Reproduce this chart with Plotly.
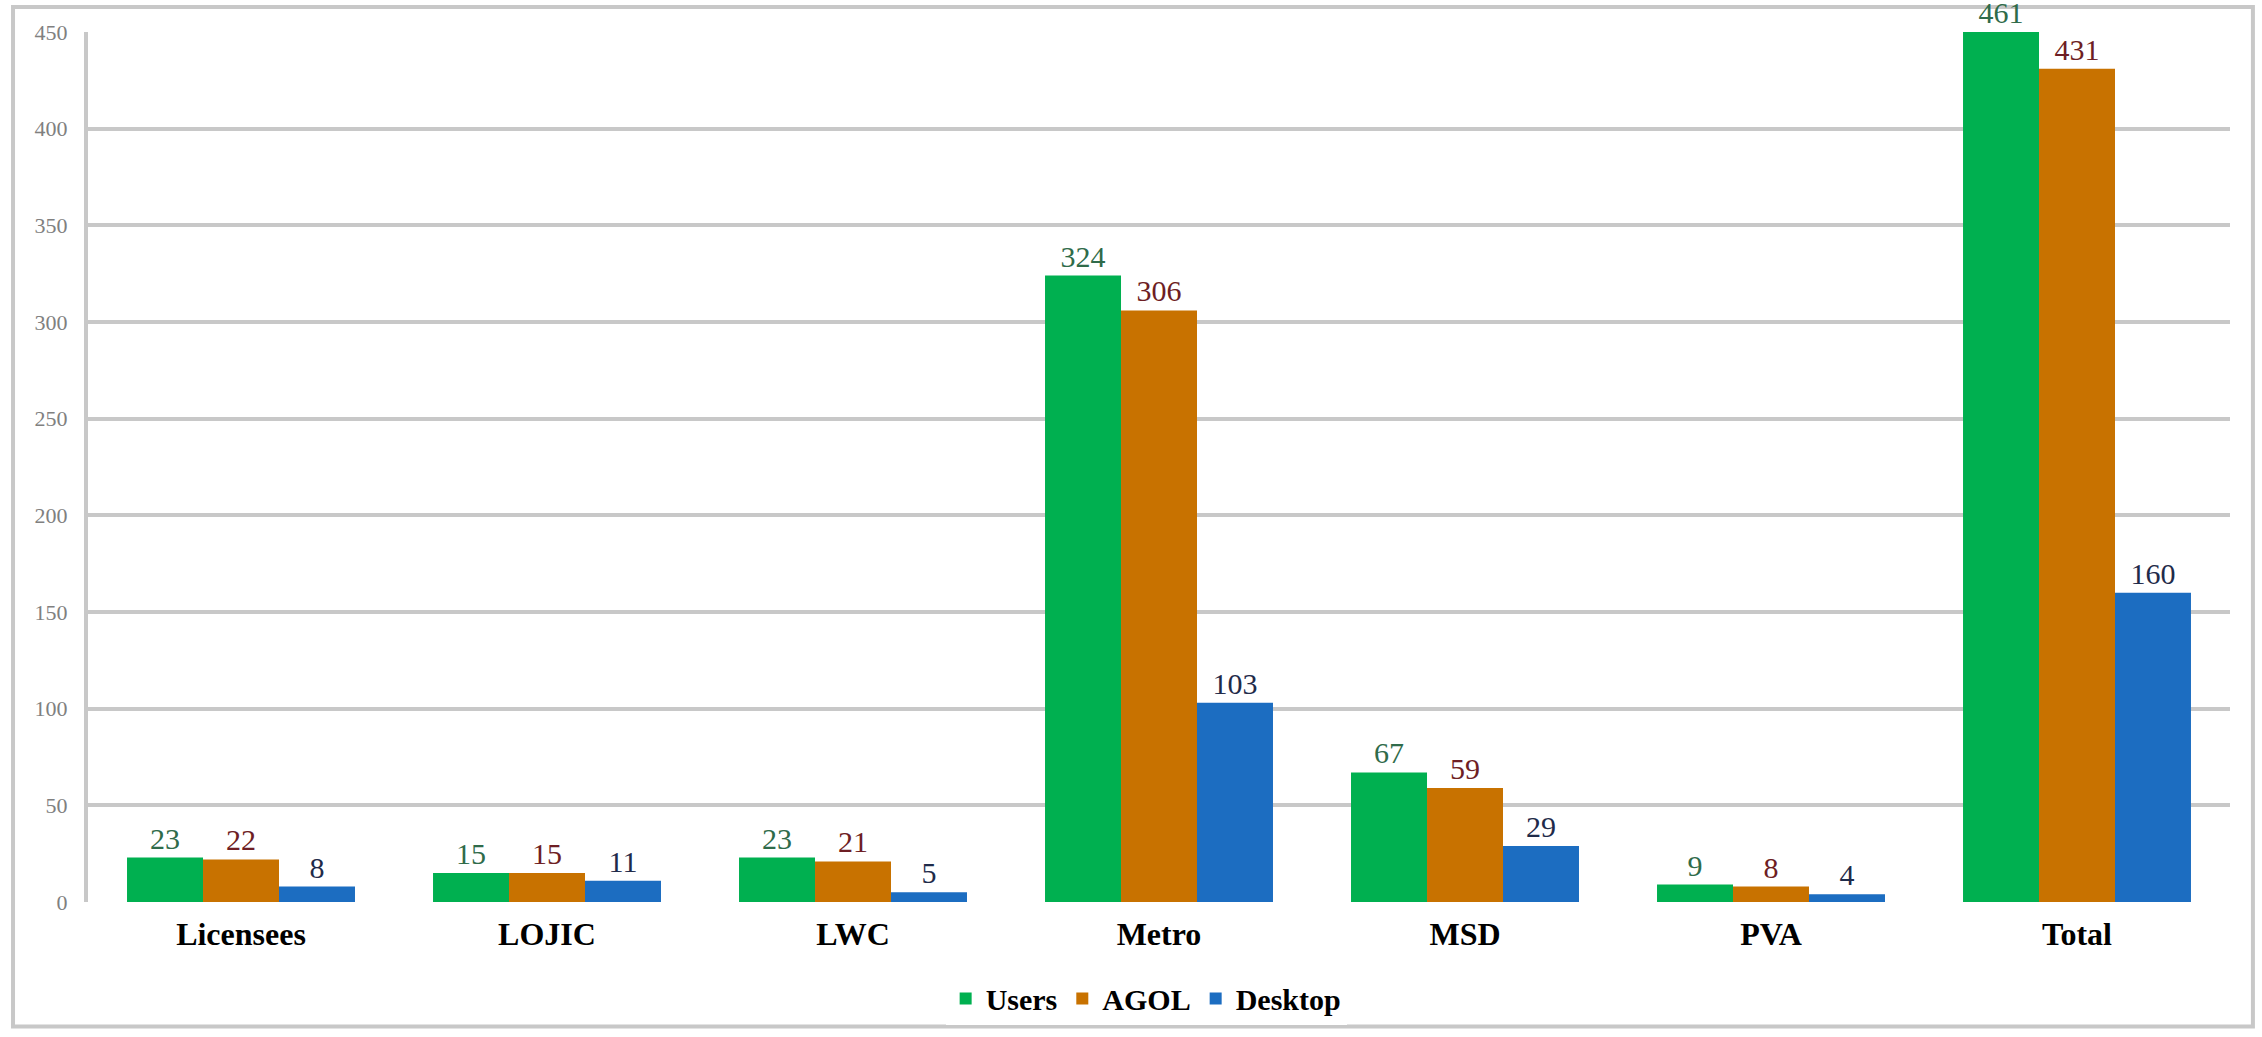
import plotly.graph_objects as go

categories = ["Licensees", "LOJIC", "LWC", "Metro", "MSD", "PVA", "Total"]
users = [23, 15, 23, 324, 67, 9, 461]
agol = [22, 15, 21, 306, 59, 8, 431]
desktop = [8, 11, 5, 103, 29, 4, 160]
y_ticks = [0, 50, 100, 150, 200, 250, 300, 350, 400, 450]
Y_MAX = 450

series = [
    ("Users", users, "#00B050", "#2F6B4A"),
    ("AGOL", agol, "#C87200", "#6E1E24"),
    ("Desktop", desktop, "#1C6DC1", "#1F2B4A"),
]

SERIF = "Liberation Serif"
fig = go.Figure()

# visible bars (clipped to the plot area)
for name, vals, col, _ in series:
    fig.add_trace(go.Bar(
        x=categories, y=vals, name=name, marker=dict(color=col, line=dict(width=0)),
        cliponaxis=True, hoverinfo="x+y+name",
    ))

# label carriers (transparent, unclipped) on an overlaying matched axis;
# like the source chart, labels of bars beyond the axis max sit just above it
for name, vals, col, tcol in series:
    fig.add_trace(go.Bar(
        x=categories, y=[min(v, Y_MAX) for v in vals], name=name, xaxis="x2",
        showlegend=False,
        marker=dict(color="rgba(0,0,0,0)", line=dict(width=0)),
        text=[str(v) for v in vals], textposition="outside", cliponaxis=False,
        constraintext="none",
        textfont=dict(family=SERIF, size=30, color=tcol), hoverinfo="skip",
    ))

fig.update_layout(
    width=2262, height=1037,
    margin=dict(l=88, r=32, t=32, b=131),
    paper_bgcolor="white", plot_bgcolor="white",
    barmode="group", bargap=0.255, bargroupgap=0,
    font=dict(family=SERIF, color="#000000"),
    showlegend=True,
    legend=dict(
        orientation="h", x=0.494, xanchor="center", y=-0.111, yanchor="middle",
        font=dict(family=SERIF, size=30, color="#000000", weight="bold"),
        itemsizing="constant", traceorder="normal",
    ),
    xaxis=dict(
        type="category", categoryorder="array", categoryarray=categories,
        showgrid=False, showline=False, zeroline=False, ticks="",
        tickfont=dict(family=SERIF, size=32, color="#000000", weight="bold"),
        ticklabelstandoff=10,
    ),
    xaxis2=dict(
        type="category", overlaying="x", matches="x", visible=False,
        categoryorder="array", categoryarray=categories,
    ),
    yaxis=dict(
        range=[0, Y_MAX], tickmode="array", tickvals=y_ticks,
        ticktext=[str(v) for v in y_ticks],
        showgrid=True, gridcolor="#C8C8C8", gridwidth=4,
        zeroline=True, zerolinecolor="white", zerolinewidth=5,
        showline=True, linecolor="#C8C8C8", linewidth=4,
        ticks="", ticklabelstandoff=12,
        tickfont=dict(family=SERIF, size=22, color="#808080"),
    ),
    shapes=[dict(
        type="rect", xref="paper", yref="paper",
        x0=-0.035, x1=1.0107, y0=-0.143, y1=1.0286,
        line=dict(color="#C8C8C8", width=4), fillcolor="rgba(0,0,0,0)", layer="below",
    )],
)

fig.write_html(
    "out.html",
    config={"displayModeBar": False},
    post_script="document.body.style.margin='0px';",
)
